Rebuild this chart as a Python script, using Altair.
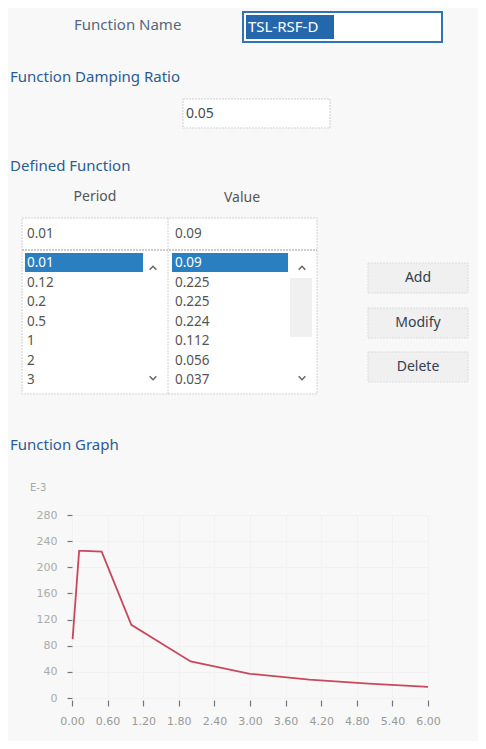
import altair as alt
import pandas as pd

# ---------------- data ----------------
periods = [0.01, 0.12, 0.2, 0.5, 1, 2, 3, 4, 5, 6]
values = [0.09, 0.225, 0.225, 0.224, 0.112, 0.056, 0.037, 0.028, 0.022, 0.017]
x_ticks = [0.0, 0.6, 1.2, 1.8, 2.4, 3.0, 3.6, 4.2, 4.8, 5.4, 6.0]
y_ticks = [0, 40, 80, 120, 160, 200, 240, 280]
function_name = "TSL-RSF-D"
damping_ratio = "0.05"
visible_rows = 7

df_func = pd.DataFrame({"period": periods, "value": values})
df_list = pd.DataFrame({
    "row": list(range(visible_rows)),
    "ptxt": [f"{p:g}" for p in periods[:visible_rows]],
    "vtxt": [f"{v:g}" for v in values[:visible_rows]],
})
one = pd.DataFrame({"k": [0]})

# plot origin in page-image coordinates (used to place dialog widgets)
OX, OY = 72, 515
UI_FONT = "Noto Sans"


def px(x):
    return x - OX


def py(y):
    return y - OY


def label(txt, x, y, size=15, color="#2b5c94", align="left", font=UI_FONT, weight="normal"):
    return alt.Chart(one).mark_text(
        text=txt, align=align, baseline="middle", fontSize=size, color=color,
        font=font, fontWeight=weight
    ).encode(x=alt.value(px(x)), y=alt.value(py(y)))


def box(x1, y1, x2, y2, fill, stroke=None, sw=1, dash=None):
    kw = dict(fill=fill, strokeWidth=sw)
    if stroke is not None:
        kw["stroke"] = stroke
    if dash is not None:
        kw["strokeDash"] = dash
    return alt.Chart(one).mark_rect(**kw).encode(
        x=alt.value(px(x1)), x2=alt.value(px(x2)),
        y=alt.value(py(y1)), y2=alt.value(py(y2)))


def hline(x1, x2, y, color, dash=None, sw=1):
    kw = dict(color=color, strokeWidth=sw)
    if dash is not None:
        kw["strokeDash"] = dash
    return alt.Chart(one).mark_rule(**kw).encode(
        x=alt.value(px(x1)), x2=alt.value(px(x2)), y=alt.value(py(y)))


def vline(x, y1, y2, color, dash=None, sw=1):
    kw = dict(color=color, strokeWidth=sw)
    if dash is not None:
        kw["strokeDash"] = dash
    return alt.Chart(one).mark_rule(**kw).encode(
        x=alt.value(px(x)), y=alt.value(py(y1)), y2=alt.value(py(y2)))


def chevron(x, y, up=True):
    path = "M -1 0.5 L 0 -0.5 L 1 0.5" if up else "M -1 -0.5 L 0 0.5 L 1 -0.5"
    return alt.Chart(one).mark_point(
        shape=path, filled=False, size=45, color="#666", strokeWidth=1.5, opacity=1
    ).encode(x=alt.value(px(x)), y=alt.value(py(y)))


layers = []

# ---- top of dialog ----
layers.append(label("Function Name", 74, 25, color="#56677c"))
layers.append(box(243, 12, 442, 42, "white", "#2f73b8", 2))
layers.append(box(246, 15, 334, 39, "#2467ad"))
layers.append(label(function_name, 248, 27, size=15, color="white"))

layers.append(label("Function Damping Ratio", 10, 77))
layers.append(box(183, 99, 330, 128, "white", "#cfcfcf", 1, [2, 1]))
layers.append(label(damping_ratio, 186, 114, size=14, color="#4a4a4a"))

layers.append(label("Defined Function", 10, 166))
layers.append(label("Period", 95, 197, size=14, color="#555", align="center"))
layers.append(label("Value", 242, 198, size=14, color="#555", align="center"))

# ---- list box ----
layers.append(box(22, 218, 317, 394, "white", "#d2d2d2", 1, [2, 1]))
layers.append(hline(22, 317, 250, "#9a9a9a", [2, 1]))
layers.append(vline(168, 218, 394, "#d2d2d2", [2, 1]))
layers.append(box(290, 278, 312, 337, "#f0f0f0"))
layers.append(label(f"{periods[0]:g}", 27, 234, size=13.5, color="#555"))
layers.append(label(f"{values[0]:g}", 175, 234, size=13.5, color="#555"))
layers.append(box(25, 253, 143, 272, "#2a7fc0"))
layers.append(box(172, 253, 288, 272, "#2a7fc0"))

row_scale = alt.Scale(domain=[0, visible_rows - 1], range=[py(263), py(380)])
row_color = alt.condition("datum.row == 0", alt.value("white"), alt.value("#555"))
layers.append(
    alt.Chart(df_list).mark_text(align="left", baseline="middle", fontSize=13.5, font=UI_FONT)
    .encode(x=alt.value(px(27)), y=alt.Y("row:Q", scale=row_scale, axis=None),
            text="ptxt:N", color=row_color)
)
layers.append(
    alt.Chart(df_list).mark_text(align="left", baseline="middle", fontSize=13.5, font=UI_FONT)
    .encode(x=alt.value(px(175)), y=alt.Y("row:Q", scale=row_scale, axis=None),
            text="vtxt:N", color=row_color)
)
layers.append(chevron(153, 268, True))
layers.append(chevron(153, 378, False))
layers.append(chevron(302, 268, True))
layers.append(chevron(302, 378, False))

# ---- buttons ----
for name, y1, y2 in [("Add", 263, 293), ("Modify", 308, 338), ("Delete", 352, 382)]:
    layers.append(box(368, y1, 468, y2, "#f0f0f0", "#dcdcdc", 1, [2, 1]))
    layers.append(label(name, 418, (y1 + y2) / 2, size=14, color="#34404f", align="center"))

# ---- graph ----
layers.append(label("Function Graph", 10, 445))
layers.append(label("E-3", 30, 488, size=10, color="#aaaaaa", font="DejaVu Sans"))

line = alt.Chart(df_func).transform_calculate(
    ve3="datum.value * 1000"
).mark_line(color="#c9485e", strokeWidth=1.8).encode(
    x=alt.X("period:Q", scale=alt.Scale(domain=[0, 6], nice=False),
            axis=alt.Axis(values=x_ticks, format=".2f", title=None, domain=False,
                          tickSize=6, tickColor="#777", tickWidth=1.2, offset=2,
                          labelPadding=9, labelFontSize=11, labelColor="#999",
                          labelFont="DejaVu Sans", labelFlush=False, labelOverlap=False,
                          grid=True, gridColor="#f2f2f2")),
    y=alt.Y("ve3:Q", scale=alt.Scale(domain=[0, 280], nice=False),
            axis=alt.Axis(values=y_ticks, format="d", title=None, domain=False,
                          tickSize=5, tickColor="#777", tickWidth=1.2,
                          labelPadding=10, labelFontSize=11, labelColor="#ababab",
                          labelFont="DejaVu Sans", labelOverlap=False,
                          grid=True, gridColor="#f2f2f2")),
)

chart = alt.layer(line, *layers).resolve_scale(y="independent").properties(
    width=356, height=183,
    autosize=alt.AutoSizeParams(type="none"),
    padding={"left": 64, "top": 507, "right": 50, "bottom": 43},
    background="#f8f8f8",
).configure_view(stroke=None)

chart.save("out.html", embed_options={"renderer": "svg", "actions": False})
